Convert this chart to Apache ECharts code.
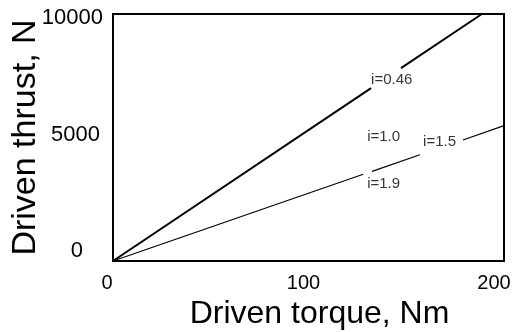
<!DOCTYPE html>
<html>
<head>
<meta charset="utf-8">
<script src="https://cdn.jsdelivr.net/npm/echarts@6/dist/echarts.min.js"></script>
<style>
  html, body { margin: 0; padding: 0; background: #fff; }
  #chart { width: 529px; height: 332px; }
</style>
</head>
<body>
<div id="chart"></div>
<script>
// torque (Nm) vs thrust (N)
const lineLow = [[0, 0], [128, 3510], [130, '-'], [132.5, 3630], [157, 4300], [168, '-'], [179, 4900], [200, 5480]];
const lineHigh = [[0, 0], [132, 7000], [140, '-'], [147.3, 7810], [188.7, 10000]];

const labelNames = ['i=0.46', 'i=1.0', 'i=1.5', 'i=1.9'];
const labelX = [132, 130, 158.6, 130];
const labelY = [7330, 5020, 4820, 3120];

const xTicks = [0, 100, 200];
const yTicks = [0, 5000, 10000];

const chart = echarts.init(document.getElementById('chart'));
const font = 'Liberation Sans, Arial, sans-serif';

chart.setOption({
  animation: false,
  grid: {
    left: 113, right: 25, top: 14, bottom: 71,
    outerBoundsMode: 'none',
    containLabel: false,
    show: true, borderColor: '#000', borderWidth: 2,
  },
  xAxis: {
    type: 'value',
    min: xTicks[0], max: xTicks[2], interval: 100,
    name: 'Driven torque, Nm',
    nameLocation: 'middle',
    nameGap: 37,
    nameMoveOverlap: false,
    nameTextStyle: { fontSize: 32, color: '#000', fontFamily: font, padding: [0, 0, 0, 22] },
    axisLine: { lineStyle: { color: '#000', width: 2 } },
    axisTick: { show: false },
    splitLine: { show: false },
    axisLabel: {
      margin: 12,
      color: '#000',
      fontSize: 20,
      fontFamily: font,
      formatter: (v) => '{t' + v + '|' + v + '}',
      rich: {
        t0: { fontSize: 20, fontFamily: font, color: '#000', padding: [0, 12, 0, 0] },
        t100: { fontSize: 20, fontFamily: font, color: '#000', padding: [0, 10, 0, 0] },
        t200: { fontSize: 20, fontFamily: font, color: '#000', padding: [0, 20, 0, 0] },
      },
    },
  },
  yAxis: {
    type: 'value',
    min: yTicks[0], max: yTicks[2], interval: 5000,
    name: 'Driven thrust, N',
    nameLocation: 'middle',
    nameGap: 70,
    nameMoveOverlap: false,
    nameTextStyle: { fontSize: 34, color: '#000', fontFamily: font },
    axisLine: { lineStyle: { color: '#000', width: 2 } },
    axisTick: { show: false },
    splitLine: { show: false },
    axisLabel: {
      margin: 7,
      color: '#000',
      fontSize: 22,
      fontFamily: font,
      formatter: (v) => '{t' + v + '|' + v + '}',
      rich: {
        t0: { fontSize: 22, fontFamily: font, color: '#000', padding: [0, 23, 20, 0] },
        t5000: { fontSize: 22, fontFamily: font, color: '#000', padding: [0, 6, 6, 0] },
        t10000: { fontSize: 22, fontFamily: font, color: '#000', padding: [8, 3, 0, 0] },
      },
    },
  },
  series: [
    {
      type: 'line',
      data: lineHigh,
      symbol: 'none',
      connectNulls: false,
      lineStyle: { color: '#000', width: 2 },
    },
    {
      type: 'line',
      data: lineLow,
      symbol: 'none',
      connectNulls: false,
      lineStyle: { color: '#000', width: 1.2 },
    },
    {
      type: 'scatter',
      symbolSize: 0,
      data: labelNames.map((n, k) => ({ name: n, value: [labelX[k], labelY[k]] })),
      label: {
        show: true,
        position: 'right',
        distance: 0,
        formatter: (p) => p.name,
        color: '#000',
        fontSize: 15,
        fontFamily: font,
      },
    },
  ],
});
</script>
</body>
</html>
